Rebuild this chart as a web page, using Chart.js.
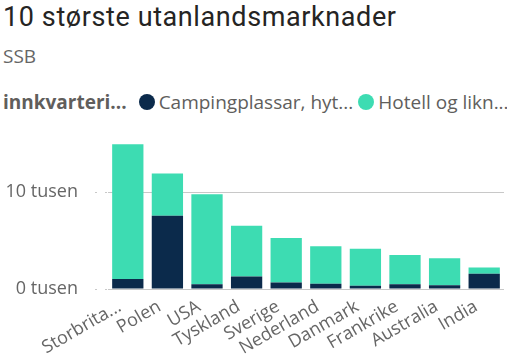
<!DOCTYPE html>
<html>
<head>
<meta charset="utf-8">
<script src="https://cdn.jsdelivr.net/npm/chart.js@4.4.1/dist/chart.umd.min.js"></script>
<style>
  html, body { margin: 0; padding: 0; background: #fff; width: 507px; height: 364px; overflow: hidden; }
  #title { position: absolute; left: 3px; top: 1px; font-family: Roboto, sans-serif; font-size: 27px; color: #252423; letter-spacing: 0.6px; white-space: nowrap; }
  #subtitle { position: absolute; left: 3px; top: 43px; font-family: "Open Sans", sans-serif; font-size: 19px; color: #666; }
  #legend { position: absolute; left: 3px; top: 89px; font-family: "Open Sans", sans-serif; font-size: 19px; color: #605e5c; display: flex; align-items: center; white-space: nowrap; }
  #legend .lt { font-weight: bold; color: #605e5c; margin-right: 12px; }
  #legend .item { display: flex; align-items: center; margin-right: 5px; }
  #legend .dot { width: 16px; height: 16px; border-radius: 50%; margin-right: 4px; display: inline-block; }
  #wrap { position: absolute; left: 0; top: 106px; width: 507px; height: 258px; }
</style>
</head>
<body>
<div id="title"></div>
<div id="subtitle"></div>
<div id="legend"></div>
<div id="wrap"><canvas id="c"></canvas></div>
<script>
const titleText = "10 største utanlandsmarknader";
const subtitleText = "SSB";
const legendTitle = "innkvarteringstype";
const categories = ["Storbritannia", "Polen", "USA", "Tyskland", "Sverige", "Nederland", "Danmark", "Frankrike", "Australia", "India"];
const seriesNames = ["Campingplassar, hyttegrender og vandrarheim", "Hotell og liknande"];
const campingValues = [1020, 7550, 480, 1290, 680, 540, 340, 480, 380, 1560];
const hotellValues = [13910, 4350, 9280, 5240, 4590, 3880, 3810, 3020, 2780, 650];
const seriesColors = ["#0b2a4b", "#3ddcb2"];
const yTickValues = [0, 10000];
const yMax = 16000;

function trunc(s, n) { return s.length > n ? s.slice(0, n) + "..." : s; }

document.getElementById("title").textContent = titleText;
document.getElementById("subtitle").textContent = subtitleText;

const data = {
  labels: categories,
  datasets: [
    { label: seriesNames[0], data: campingValues, backgroundColor: seriesColors[0] },
    { label: seriesNames[1], data: hotellValues, backgroundColor: seriesColors[1] }
  ]
};

// HTML legend from datasets
const lg = document.getElementById("legend");
const lt = document.createElement("span");
lt.className = "lt";
lt.textContent = trunc(legendTitle, 11);
lg.appendChild(lt);
const legendLens = [19, 14];
data.datasets.forEach((ds, i) => {
  const it = document.createElement("span");
  it.className = "item";
  const d = document.createElement("span");
  d.className = "dot";
  d.style.background = ds.backgroundColor;
  const t = document.createElement("span");
  t.textContent = trunc(ds.label, legendLens[i]);
  it.appendChild(d); it.appendChild(t);
  lg.appendChild(it);
});

new Chart(document.getElementById("c"), {
  type: "bar",
  data: data,
  options: {
    responsive: true,
    maintainAspectRatio: false,
    animation: false,
    layout: { padding: { top: 12, right: 3, left: 0, bottom: 0 } },
    datasets: { bar: { barPercentage: 0.79, categoryPercentage: 1.0, borderWidth: 0 } },
    plugins: { legend: { display: false }, tooltip: { enabled: false }, title: { display: false } },
    scales: {
      x: {
        stacked: true,
        grid: { display: false, drawTicks: false },
        border: { display: false },
        ticks: {
          color: "#666",
          font: { family: "Open Sans", size: 18 },
          maxRotation: 30, minRotation: 30,
          autoSkip: false,
          padding: 7,
          labelOffset: -8,
          callback: function (v) { const l = this.getLabelForValue(v); return l.length > 10 ? trunc(l, 9) : l; }
        },
        afterFit: function (s) { s.height = 75; }
      },
      y: {
        stacked: true,
        min: 0, max: yMax,
        border: { display: false },
        grid: { color: "#c8c8c8", lineWidth: 1, tickLength: 13, tickColor: "#c8c8c8", borderDash: [2, 8], tickBorderDash: [2, 8] },
        afterBuildTicks: function (s) { s.ticks = yTickValues.map(v => ({ value: v })); },
        ticks: {
          color: "#666",
          font: { family: "Open Sans", size: 18 },
          padding: 17,
          callback: function (v) { return (v / 1000) + " tusen"; }
        },
        afterFit: function (s) { s.width = 108; }
      }
    }
  }
});
</script>
</body>
</html>
